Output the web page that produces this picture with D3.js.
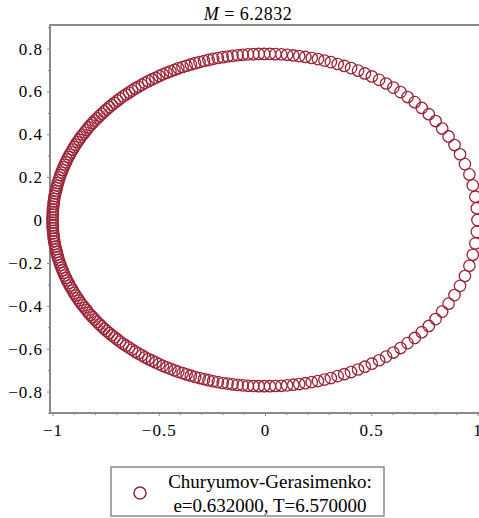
<!DOCTYPE html>
<html>
<head>
<meta charset="utf-8">
<script src="https://cdn.jsdelivr.net/npm/d3@7"></script>
<style>
  html, body { margin: 0; padding: 0; background: #ffffff; }
  svg { display: block; }
  text { font-family: "Liberation Serif", "Times New Roman", serif; fill: #000; }
</style>
</head>
<body>
<svg id="chart" width="479" height="518"></svg>
<script>
// ---- data (positions of Churyumov-Gerasimenko) ----
const xValues = [
  1.000, 0.997, 0.990, 0.978, 0.962, 0.941, 0.918, 0.892, 0.864, 0.834,
  0.803, 0.771, 0.738, 0.705, 0.671, 0.638, 0.604, 0.570, 0.537, 0.503,
  0.470, 0.438, 0.405, 0.373, 0.342, 0.310, 0.280, 0.249, 0.220, 0.190,
  0.161, 0.133, 0.104, 0.077, 0.049, 0.023, -0.004, -0.029, -0.055, -0.080,
  -0.105, -0.129, -0.153, -0.176, -0.199, -0.222, -0.244, -0.266, -0.287, -0.308,
  -0.329, -0.349, -0.369, -0.388, -0.408, -0.426, -0.445, -0.463, -0.481, -0.498,
  -0.515, -0.532, -0.549, -0.565, -0.580, -0.596, -0.611, -0.626, -0.640, -0.654,
  -0.668, -0.682, -0.695, -0.708, -0.721, -0.733, -0.745, -0.757, -0.768, -0.779,
  -0.790, -0.801, -0.811, -0.821, -0.831, -0.840, -0.849, -0.858, -0.867, -0.875,
  -0.883, -0.891, -0.898, -0.905, -0.912, -0.919, -0.925, -0.932, -0.937, -0.943,
  -0.948, -0.953, -0.958, -0.963, -0.967, -0.971, -0.975, -0.978, -0.981, -0.984,
  -0.987, -0.990, -0.992, -0.994, -0.995, -0.997, -0.998, -0.999, -0.999, -1.000,
  -1.000, -1.000, -0.999, -0.999, -0.998, -0.997, -0.995, -0.994, -0.992, -0.990,
  -0.987, -0.984, -0.981, -0.978, -0.975, -0.971, -0.967, -0.963, -0.958, -0.953,
  -0.948, -0.943, -0.937, -0.932, -0.925, -0.919, -0.912, -0.905, -0.898, -0.891,
  -0.883, -0.875, -0.867, -0.858, -0.849, -0.840, -0.831, -0.821, -0.811, -0.801,
  -0.790, -0.779, -0.768, -0.757, -0.745, -0.733, -0.721, -0.708, -0.695, -0.682,
  -0.668, -0.654, -0.640, -0.626, -0.611, -0.596, -0.580, -0.565, -0.549, -0.532,
  -0.515, -0.498, -0.481, -0.463, -0.445, -0.426, -0.408, -0.388, -0.369, -0.349,
  -0.329, -0.308, -0.287, -0.266, -0.244, -0.222, -0.199, -0.176, -0.153, -0.129,
  -0.105, -0.080, -0.055, -0.029, -0.004, 0.023, 0.049, 0.077, 0.104, 0.133,
  0.161, 0.190, 0.220, 0.249, 0.280, 0.310, 0.342, 0.373, 0.405, 0.438,
  0.470, 0.503, 0.537, 0.570, 0.604, 0.638, 0.671, 0.705, 0.738, 0.771,
  0.803, 0.834, 0.864, 0.892, 0.918, 0.941, 0.962, 0.978, 0.990, 0.997
];
const yValues = [
  0.000, 0.055, 0.109, 0.162, 0.213, 0.261, 0.307, 0.350, 0.390, 0.427,
  0.462, 0.494, 0.523, 0.550, 0.574, 0.597, 0.618, 0.637, 0.654, 0.670,
  0.684, 0.697, 0.709, 0.719, 0.728, 0.737, 0.744, 0.751, 0.756, 0.761,
  0.765, 0.768, 0.771, 0.773, 0.774, 0.775, 0.775, 0.775, 0.774, 0.773,
  0.771, 0.769, 0.766, 0.763, 0.760, 0.756, 0.752, 0.747, 0.742, 0.737,
  0.732, 0.726, 0.720, 0.714, 0.708, 0.701, 0.694, 0.687, 0.680, 0.672,
  0.664, 0.656, 0.648, 0.640, 0.631, 0.622, 0.614, 0.604, 0.595, 0.586,
  0.577, 0.567, 0.557, 0.547, 0.537, 0.527, 0.517, 0.507, 0.496, 0.486,
  0.475, 0.464, 0.453, 0.443, 0.432, 0.420, 0.409, 0.398, 0.387, 0.375,
  0.364, 0.352, 0.341, 0.329, 0.317, 0.306, 0.294, 0.282, 0.270, 0.258,
  0.246, 0.234, 0.222, 0.210, 0.198, 0.185, 0.173, 0.161, 0.149, 0.136,
  0.124, 0.112, 0.099, 0.087, 0.075, 0.062, 0.050, 0.037, 0.025, 0.012,
  0.000, -0.012, -0.025, -0.037, -0.050, -0.062, -0.075, -0.087, -0.099, -0.112,
  -0.124, -0.136, -0.149, -0.161, -0.173, -0.185, -0.198, -0.210, -0.222, -0.234,
  -0.246, -0.258, -0.270, -0.282, -0.294, -0.306, -0.317, -0.329, -0.341, -0.352,
  -0.364, -0.375, -0.387, -0.398, -0.409, -0.420, -0.432, -0.443, -0.453, -0.464,
  -0.475, -0.486, -0.496, -0.507, -0.517, -0.527, -0.537, -0.547, -0.557, -0.567,
  -0.577, -0.586, -0.595, -0.604, -0.614, -0.622, -0.631, -0.640, -0.648, -0.656,
  -0.664, -0.672, -0.680, -0.687, -0.694, -0.701, -0.708, -0.714, -0.720, -0.726,
  -0.732, -0.737, -0.742, -0.747, -0.752, -0.756, -0.760, -0.763, -0.766, -0.769,
  -0.771, -0.773, -0.774, -0.775, -0.775, -0.775, -0.774, -0.773, -0.771, -0.768,
  -0.765, -0.761, -0.756, -0.751, -0.744, -0.737, -0.728, -0.719, -0.709, -0.697,
  -0.684, -0.670, -0.654, -0.637, -0.618, -0.597, -0.574, -0.550, -0.523, -0.494,
  -0.462, -0.427, -0.390, -0.350, -0.307, -0.261, -0.213, -0.162, -0.109, -0.055
];
const xTicks = [-1, -0.5, 0, 0.5, 1];
const xMinorTicks = [-0.9, -0.8, -0.7, -0.6, -0.4, -0.3, -0.2, -0.1, 0.1, 0.2, 0.3, 0.4, 0.6, 0.7, 0.8, 0.9];
const yTicks = [-0.8, -0.6, -0.4, -0.2, 0, 0.2, 0.4, 0.6, 0.8];
const yMinorTicks = [-0.9, -0.7, -0.5, -0.3, -0.1, 0.1, 0.3, 0.5, 0.7, 0.9];
const titleName = "M";
const titleValue = "6.2832";
const legendLines = ["Churyumov-Gerasimenko:", "e=0.632000, T=6.570000"];

// ---- layout ----
const svg = d3.select("#chart");
const pLeft = 50, pRight = 480, pTop = 25, pBottom = 413;
const axisColor = "#8a8a8a";
const markColor = "#9a2538";

const x = d3.scaleLinear().domain([-1.012, 1.012]).range([pLeft, pRight]);
const y = d3.scaleLinear().domain([-0.9, 0.91]).range([pBottom, pTop]);

const fmt = d => d3.format("")(d).replace("-", "\u2212");

// minor ticks
svg.append("g").attr("transform", `translate(0,${pBottom})`)
  .call(d3.axisBottom(x).tickValues(xMinorTicks).tickSize(2).tickFormat(""))
  .call(g => g.select(".domain").remove())
  .call(g => g.selectAll("line").attr("stroke", axisColor));
svg.append("g").attr("transform", `translate(${pLeft},0)`)
  .call(d3.axisLeft(y).tickValues(yMinorTicks).tickSize(2).tickFormat(""))
  .call(g => g.select(".domain").remove())
  .call(g => g.selectAll("line").attr("stroke", axisColor));

// major ticks
svg.append("g").attr("transform", `translate(0,${pBottom})`)
  .call(d3.axisBottom(x).tickValues(xTicks).tickSize(3).tickPadding(8).tickFormat(fmt))
  .call(g => g.select(".domain").remove())
  .call(g => g.selectAll("line").attr("stroke", axisColor))
  .call(g => g.selectAll("text").attr("font-size", 17).attr("letter-spacing", "1px").attr("fill", "#000"));
svg.append("g").attr("transform", `translate(${pLeft},0)`)
  .call(d3.axisLeft(y).tickValues(yTicks).tickSize(3).tickPadding(4).tickFormat(fmt))
  .call(g => g.select(".domain").remove())
  .call(g => g.selectAll("line").attr("stroke", axisColor))
  .call(g => g.selectAll("text").attr("font-size", 17).attr("letter-spacing", "1px").attr("fill", "#000"));

// frame
svg.append("path")
  .attr("d", `M${pLeft},${pTop}H${pRight}V${pBottom}H${pLeft}Z`)
  .attr("fill", "none").attr("stroke", axisColor).attr("stroke-width", 2);

// points
const pts = xValues.map((d, i) => ({ x: d, y: yValues[i] }));
svg.append("g").selectAll("circle").data(pts).join("circle")
  .attr("cx", d => x(d.x)).attr("cy", d => y(d.y)).attr("r", 5.7)
  .attr("fill", "none").attr("stroke", markColor).attr("stroke-width", 1.3);

// title
const title = svg.append("text").attr("x", 248).attr("y", 20)
  .attr("text-anchor", "middle").attr("font-size", 18).attr("letter-spacing", "0.5px");
title.append("tspan").attr("font-style", "italic").text(titleName);
title.append("tspan").text(" = " + titleValue);

// legend
const lg = svg.append("g");
lg.append("rect").attr("x", 111).attr("y", 467).attr("width", 273).attr("height", 49)
  .attr("fill", "#fff").attr("stroke", axisColor).attr("stroke-width", 1.5);
lg.append("circle").attr("cx", 140).attr("cy", 493).attr("r", 6)
  .attr("fill", "none").attr("stroke", markColor).attr("stroke-width", 1.5);
lg.selectAll("text.l").data(legendLines).join("text").attr("class", "l")
  .attr("x", 270).attr("y", (d, i) => 488 + i * 24)
  .attr("text-anchor", "middle").attr("font-size", 19).text(d => d);
</script>
</body>
</html>
